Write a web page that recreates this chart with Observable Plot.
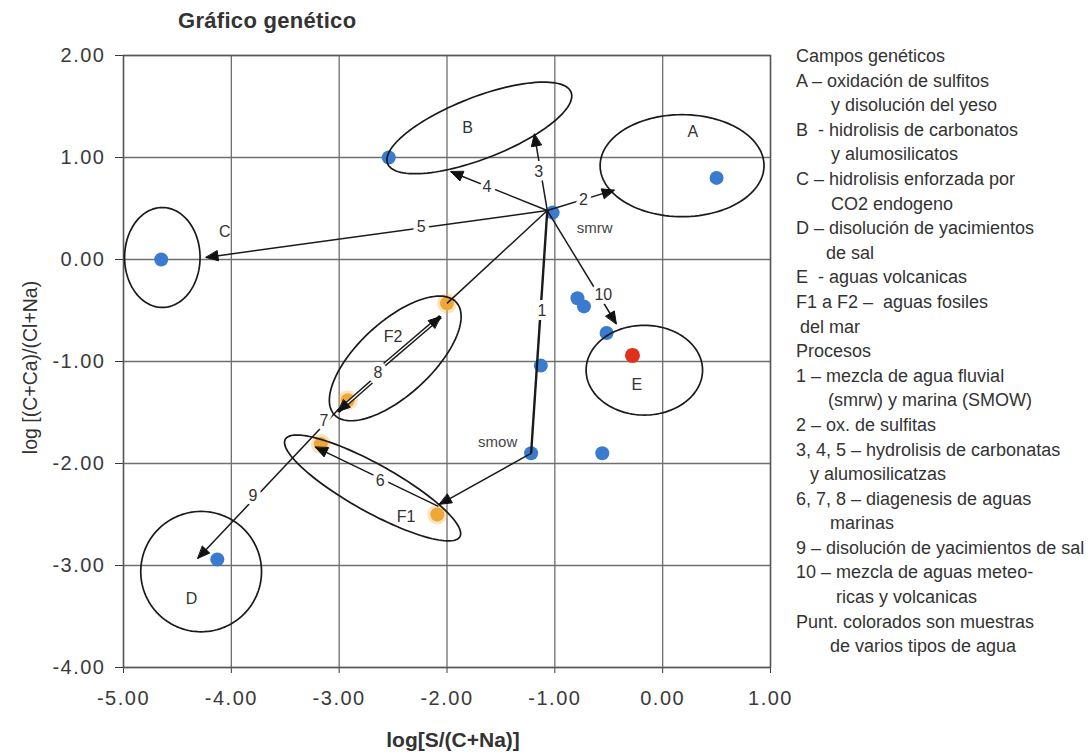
<!DOCTYPE html>
<html><head><meta charset="utf-8">
<script src="https://cdn.jsdelivr.net/npm/d3@7"></script>
<script src="https://cdn.jsdelivr.net/npm/@observablehq/plot@0.6"></script>
<style>
body{margin:0;background:#fff;font-family:"Liberation Sans",Arial,sans-serif;}
#wrap{position:relative;width:1091px;height:755px;overflow:hidden;background:#fff}
#chart{position:absolute;left:0;top:0}
#title{position:absolute;left:178px;top:8px;font-weight:bold;font-size:22px;color:#333;letter-spacing:0.3px}
#legend{position:absolute;left:796px;top:44px;font-size:18px;color:#333;line-height:24.6px;white-space:nowrap}
#chart svg [aria-label$="tick label"] text{letter-spacing:1.5px}
</style></head><body>
<div id="wrap"><div id="chart"></div><div id="title">Gráfico genético</div><div id="legend"></div></div>
<script>
// ---- data ----
const xTicks=[-5,-4,-3,-2,-1,0,1];
const yTicks=[2,1,0,-1,-2,-3,-4];

const blueX=[0.50,-2.54,-1.02,-4.65,-0.79,-0.73,-0.52,-1.13,-1.22,-0.56,-4.13];
const blueY=[0.80,1.00,0.46,0.00,-0.38,-0.46,-0.72,-1.04,-1.90,-1.90,-2.94];
const orangeX=[-2.00,-2.92,-3.17,-2.09];
const orangeY=[-0.43,-1.38,-1.81,-2.50];
const redX=[-0.28];
const redY=[-0.94];

const fieldNames=["A","B","C","D","E","F2","F1"];
const fieldCx=[0.18,-1.70,-4.64,-4.28,-0.17,-2.48,-2.69];
const fieldCy=[0.92,1.29,0.02,-3.06,-1.085,-0.97,-2.24];
const fieldRx=[0.76,0.92,0.35,0.56,0.54,0.79,0.94];
const fieldRy=[0.50,0.30,0.49,0.59,0.44,0.35,0.23];
const fieldAngle=[0,22.6,0,0,0,45,-30.7];
const fieldLabelX=[0.28,-1.81,-4.06,-4.37,-0.24,-2.50,-2.38];
const fieldLabelY=[1.25,1.29,0.27,-3.33,-1.23,-0.755,-2.52];

const procFromX=[-1.07,-1.07,-1.07,-1.07,-1.07,-1.07,-1.07,-1.22,-2.08,-3.00,-2.58,-2.70];
const procFromY=[0.48,0.48,0.48,0.48,0.48,0.48,0.48,-1.90,-2.42,-1.46,-1.03,-1.20];
const procToX=[-1.22,-0.45,-1.19,-1.965,-4.235,-0.43,-2.00,-2.07,-3.22,-4.31,-2.06,-3.01];
const procToY=[-1.90,0.68,1.23,0.86,0.02,-0.63,-0.43,-2.40,-1.84,-2.93,-0.56,-1.49];
const procHead=[false,true,true,true,true,true,false,true,true,true,true,true];
const procDouble=[false,false,false,false,false,false,false,false,false,false,true,true];

const procLabels=["1","2","3","4","5","10","6","7","8","9"];
const procLabelX=[-1.12,-0.735,-1.15,-1.63,-2.24,-0.55,-2.62,-3.14,-2.64,-3.80];
const procLabelY=[-0.50,0.58,0.86,0.71,0.32,-0.35,-2.17,-1.58,-1.115,-2.32];

const sampleLabels=["smrw","smow"];
const sampleLabelX=[-0.63,-1.53];
const sampleLabelY=[0.31,-1.79];

const legendLines=[
"Campos genéticos",
"A – oxidación de sulfitos",
"y disolución del yeso",
"B  - hidrolisis de carbonatos",
"y alumosilicatos",
"C – hidrolisis enforzada por",
"CO2 endogeno",
"D – disolución de yacimientos",
"de sal",
"E  - aguas volcanicas",
"F1 a F2 –  aguas fosiles",
"del mar",
"Procesos",
"1 – mezcla de agua fluvial",
"(smrw) y marina (SMOW)",
"2 – ox. de sulfitas",
"3, 4, 5 – hydrolisis de carbonatas",
"y alumosilicatzas",
"6, 7, 8 – diagenesis de aguas",
"marinas",
"9 – disolución de yacimientos de sal",
"10 – mezcla de aguas meteo-",
"ricas y volcanicas",
"Punt. colorados son muestras",
"de varios tipos de agua"
];

// ---- layout ----
const W=1091,H=755,mL=123,mR=321,mT=55,mB=88;
const kx=(W-mL-mR)/6, ky=(H-mT-mB)/6;

// ---- derived tables ----
const zip=(xs,ys)=>xs.map((x,i)=>({x,y:ys[i]}));
const blue=zip(blueX,blueY), orange=zip(orangeX,orangeY), red=zip(redX,redY);

const ellPts=[];
fieldNames.forEach((id,i)=>{
  const r=fieldAngle[i]*Math.PI/180, n=120;
  for(let k=0;k<n;k++){
    const t=2*Math.PI*k/n, u=fieldRx[i]*Math.cos(t), v=fieldRy[i]*Math.sin(t);
    ellPts.push({id,x:fieldCx[i]+u*Math.cos(r)-v*Math.sin(r),y:fieldCy[i]+u*Math.sin(r)+v*Math.cos(r)});
  }
});
const fieldLbl=fieldNames.map((t,i)=>({t,x:fieldLabelX[i],y:fieldLabelY[i]}));

const arrows=procFromX.map((x1,i)=>({i,x1,y1:procFromY[i],x2:procToX[i],y2:procToY[i],head:procHead[i],dbl:procDouble[i]}));
const HL=12,HW=5;
function geom(a){
  const px=(a.x2-a.x1)*kx, py=(a.y2-a.y1)*ky, len=Math.hypot(px,py);
  const ux=px/len, uy=py/len;
  return {ux,uy,bx:a.x2-HL*ux/kx,by:a.y2-HL*uy/ky};
}
const heads=[];
arrows.filter(a=>a.head).forEach(a=>{
  const g=geom(a), nx=-g.uy, ny=g.ux;
  heads.push({id:a.i,x:a.x2,y:a.y2});
  heads.push({id:a.i,x:g.bx+HW*nx/kx,y:g.by+HW*ny/ky});
  heads.push({id:a.i,x:g.bx-HW*nx/kx,y:g.by-HW*ny/ky});
});
const dblInner=arrows.filter(a=>a.dbl).map(a=>{const g=geom(a);return {x1:a.x1,y1:a.y1,x2:g.bx,y2:g.by};});
const procLbl=procLabels.map((t,i)=>({t,x:procLabelX[i],y:procLabelY[i]}));
const sampLbl=sampleLabels.map((t,i)=>({t,x:sampleLabelX[i],y:sampleLabelY[i]}));

const chart=Plot.plot({
  width:W,height:H,marginLeft:mL,marginRight:mR,marginTop:mT,marginBottom:mB,
  style:{fontFamily:"Liberation Sans, Arial, sans-serif",fontSize:"20px",color:"#3a3a3a",background:"white"},
  x:{domain:[-5,1],ticks:xTicks,tickFormat:d=>d.toFixed(2),tickSize:6,tickPadding:17,label:null},
  y:{domain:[-4,2],ticks:yTicks,tickFormat:d=>d.toFixed(2),tickSize:8,tickPadding:10,label:null},
  marks:[
    Plot.ruleX(xTicks,{stroke:"#6f6f6f",strokeWidth:1.3}),
    Plot.ruleY(yTicks,{stroke:"#6f6f6f",strokeWidth:1.3}),
    Plot.frame({stroke:"#555",strokeWidth:1.4}),
    Plot.dot(orange,{x:"x",y:"y",r:10,fill:"#f3b04a",fillOpacity:0.35}),
    Plot.dot(orange,{x:"x",y:"y",r:7,fill:"#eea838"}),
    Plot.dot(blue,{x:"x",y:"y",r:7,fill:"#3a7bcf"}),
    Plot.dot(red,{x:"x",y:"y",r:7.5,fill:"#e0311f"}),
    Plot.line(ellPts,{x:"x",y:"y",z:"id",stroke:"#1a1a1a",strokeWidth:1.7,curve:"linear-closed"}),
    Plot.link(arrows,{x1:"x1",y1:"y1",x2:"x2",y2:"y2",stroke:"#1a1a1a",strokeWidth:d=>d.i===0?2.4:(d.dbl?4.2:1.5)}),
    Plot.link(dblInner,{x1:"x1",y1:"y1",x2:"x2",y2:"y2",stroke:"white",strokeWidth:1.4}),
    Plot.line(heads,{x:"x",y:"y",z:"id",fill:"#111",stroke:"#111",strokeWidth:1,curve:"linear-closed"}),
    Plot.text(procLbl,{x:"x",y:"y",text:"t",fontSize:16,fill:"#333",stroke:"white",strokeWidth:8}),
    Plot.text(fieldLbl,{x:"x",y:"y",text:"t",fontSize:16,fill:"#333"}),
    Plot.text(sampLbl,{x:"x",y:"y",text:"t",fontSize:15,fill:"#444"}),
    Plot.text(["log[S/(C+Na)]"],{frameAnchor:"bottom",textAnchor:"middle",lineAnchor:"middle",dy:73,dx:6,fontSize:21,fontWeight:"bold",fill:"#333"}),
    Plot.text(["log [(C+Ca)/(Cl+Na)"],{frameAnchor:"left",textAnchor:"middle",lineAnchor:"middle",rotate:-90,dx:-93,dy:6,fontSize:19.5,fill:"#333"})
  ]
});
document.getElementById("chart").appendChild(chart);

const indent=[0,0,35,0,35,0,35,0,30,0,0,4,0,0,32,0,0,14,0,34,0,0,40,0,34];
const lg=document.getElementById("legend");
legendLines.forEach((s,i)=>{
  const d=document.createElement("div");
  d.style.paddingLeft=indent[i]+"px";
  d.style.whiteSpace="pre";
  d.textContent=s;
  lg.appendChild(d);
});
</script>
</body></html>
